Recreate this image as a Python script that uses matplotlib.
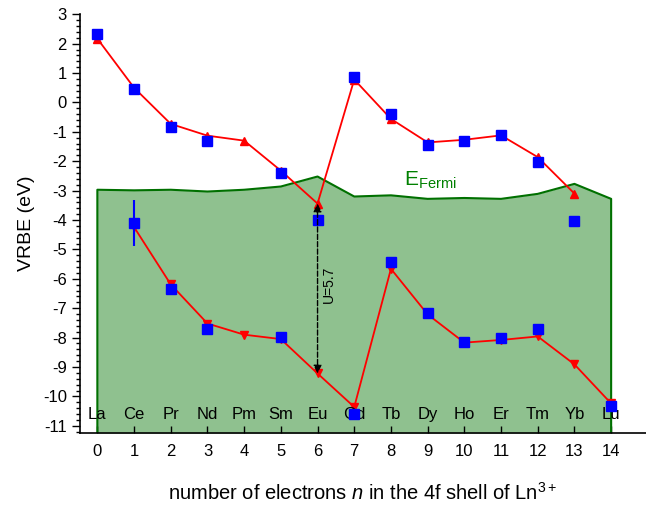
import numpy as np
import matplotlib.pyplot as plt
from matplotlib.ticker import MultipleLocator

plt.rcParams['font.family'] = ['Liberation Sans', 'DejaVu Sans']
plt.rcParams['mathtext.fontset'] = 'custom'
plt.rcParams['mathtext.rm'] = 'Liberation Sans'
plt.rcParams['mathtext.it'] = 'Liberation Sans:italic'
plt.rcParams['axes.unicode_minus'] = False

# Lanthanide series, n = 0..14
n = np.arange(15)
elements = ['La', 'Ce', 'Pr', 'Nd', 'Pm', 'Sm', 'Eu', 'Gd', 'Tb', 'Dy', 'Ho', 'Er', 'Tm', 'Yb', 'Lu']

# Fermi level
e_fermi = [-2.97, -2.99, -2.97, -3.03, -2.97, -2.86, -2.52, -3.20, -3.16, -3.28, -3.25, -3.28, -3.11, -2.77, -3.28]

# model curves (red): Ln2+ ground state (n = 0..13) and Ln3+ ground state (n = 1..14)
n_upper = np.arange(0, 14)
vrbe_upper = [2.17, 0.50, -0.73, -1.13, -1.30, -2.32, -3.44, 0.78, -0.56, -1.36, -1.27, -1.12, -1.86, -3.10]
n_lower = np.arange(1, 15)
vrbe_lower = [-4.24, -6.19, -7.52, -7.90, -8.05, -9.22, -10.36, -5.66, -7.21, -8.17, -8.08, -7.96, -8.91, -10.24]

# measured levels (blue)
n_meas_upper = [0, 1, 2, 3, 5, 6, 7, 8, 9, 10, 11, 12, 13]
meas_upper = [2.32, 0.47, -0.85, -1.30, -2.41, -4.01, 0.85, -0.39, -1.44, -1.30, -1.12, -2.03, -4.04]
n_meas_lower = [1, 2, 3, 5, 7, 8, 9, 10, 11, 12, 14]
meas_lower = [-4.11, -6.34, -7.69, -7.98, -10.61, -5.43, -7.16, -8.15, -8.00, -7.72, -10.32]
ce_err = 0.78

fig = plt.figure(figsize=(6.46, 5.09), dpi=100)
ax = fig.add_axes([0.124, 0.149, 0.876, 0.823])

ymin = -11.25
ax.fill_between(n, e_fermi, ymin, color='#8fc18f', linewidth=0, zorder=1)
ax.plot(np.r_[0, n, 14], np.r_[ymin, e_fermi, ymin], color='#007000', lw=1.5, zorder=2)

ax.plot(n_upper, vrbe_upper, color='red', marker='^', ms=6, lw=1.3, zorder=3)
ax.plot(n_lower, vrbe_lower, color='red', marker='v', ms=6, lw=1.3, zorder=3)

ax.errorbar([1], [meas_lower[0]], yerr=ce_err, color='blue', lw=1.5, capsize=0, zorder=4)
ax.plot(n_meas_upper, meas_upper, 's', color='blue', ms=7, zorder=5)
ax.plot(n_meas_lower, meas_lower, 's', color='blue', ms=7, zorder=5)

# Coulomb repulsion energy for Eu
ax.annotate('', xy=(6, vrbe_upper[6]), xytext=(6, vrbe_lower[5]),
            arrowprops=dict(arrowstyle='<|-|>', color='black', lw=1, linestyle='--',
                            mutation_scale=12, shrinkA=0, shrinkB=0), zorder=6)
ax.text(6.3, -6.2, 'U=5.7', rotation=90, ha='center', va='center', fontsize=10)

ax.text(8.35, -3.0, r'E$_{\mathrm{Fermi}}$', color='green', fontsize=15, va='bottom')

for x, el in zip(n, elements):
    ax.text(x, -10.6, el, ha='center', va='center', fontsize=12, zorder=4)

ax.set_xlim(-0.47, 14.95)
ax.set_ylim(ymin, 3)
ax.set_xticks(n)
ax.yaxis.set_major_locator(MultipleLocator(1))
ax.yaxis.set_minor_locator(MultipleLocator(0.2))
ax.tick_params(axis='x', direction='in', length=5, width=1, labelsize=12, pad=8)
ax.tick_params(axis='y', which='major', direction='out', length=6, width=1, labelsize=12)
ax.tick_params(axis='y', which='minor', direction='out', length=3, width=1)
for side in ['top', 'right']:
    ax.spines[side].set_visible(False)
for side in ['left', 'bottom']:
    ax.spines[side].set_linewidth(1.2)

ax.set_ylabel('VRBE (eV)', fontsize=14, labelpad=6)
ax.set_xlabel(r'number of electrons $n$ in the 4f shell of Ln$^{3+}$', fontsize=14.5, labelpad=16)

plt.savefig('out.png', dpi=100)
